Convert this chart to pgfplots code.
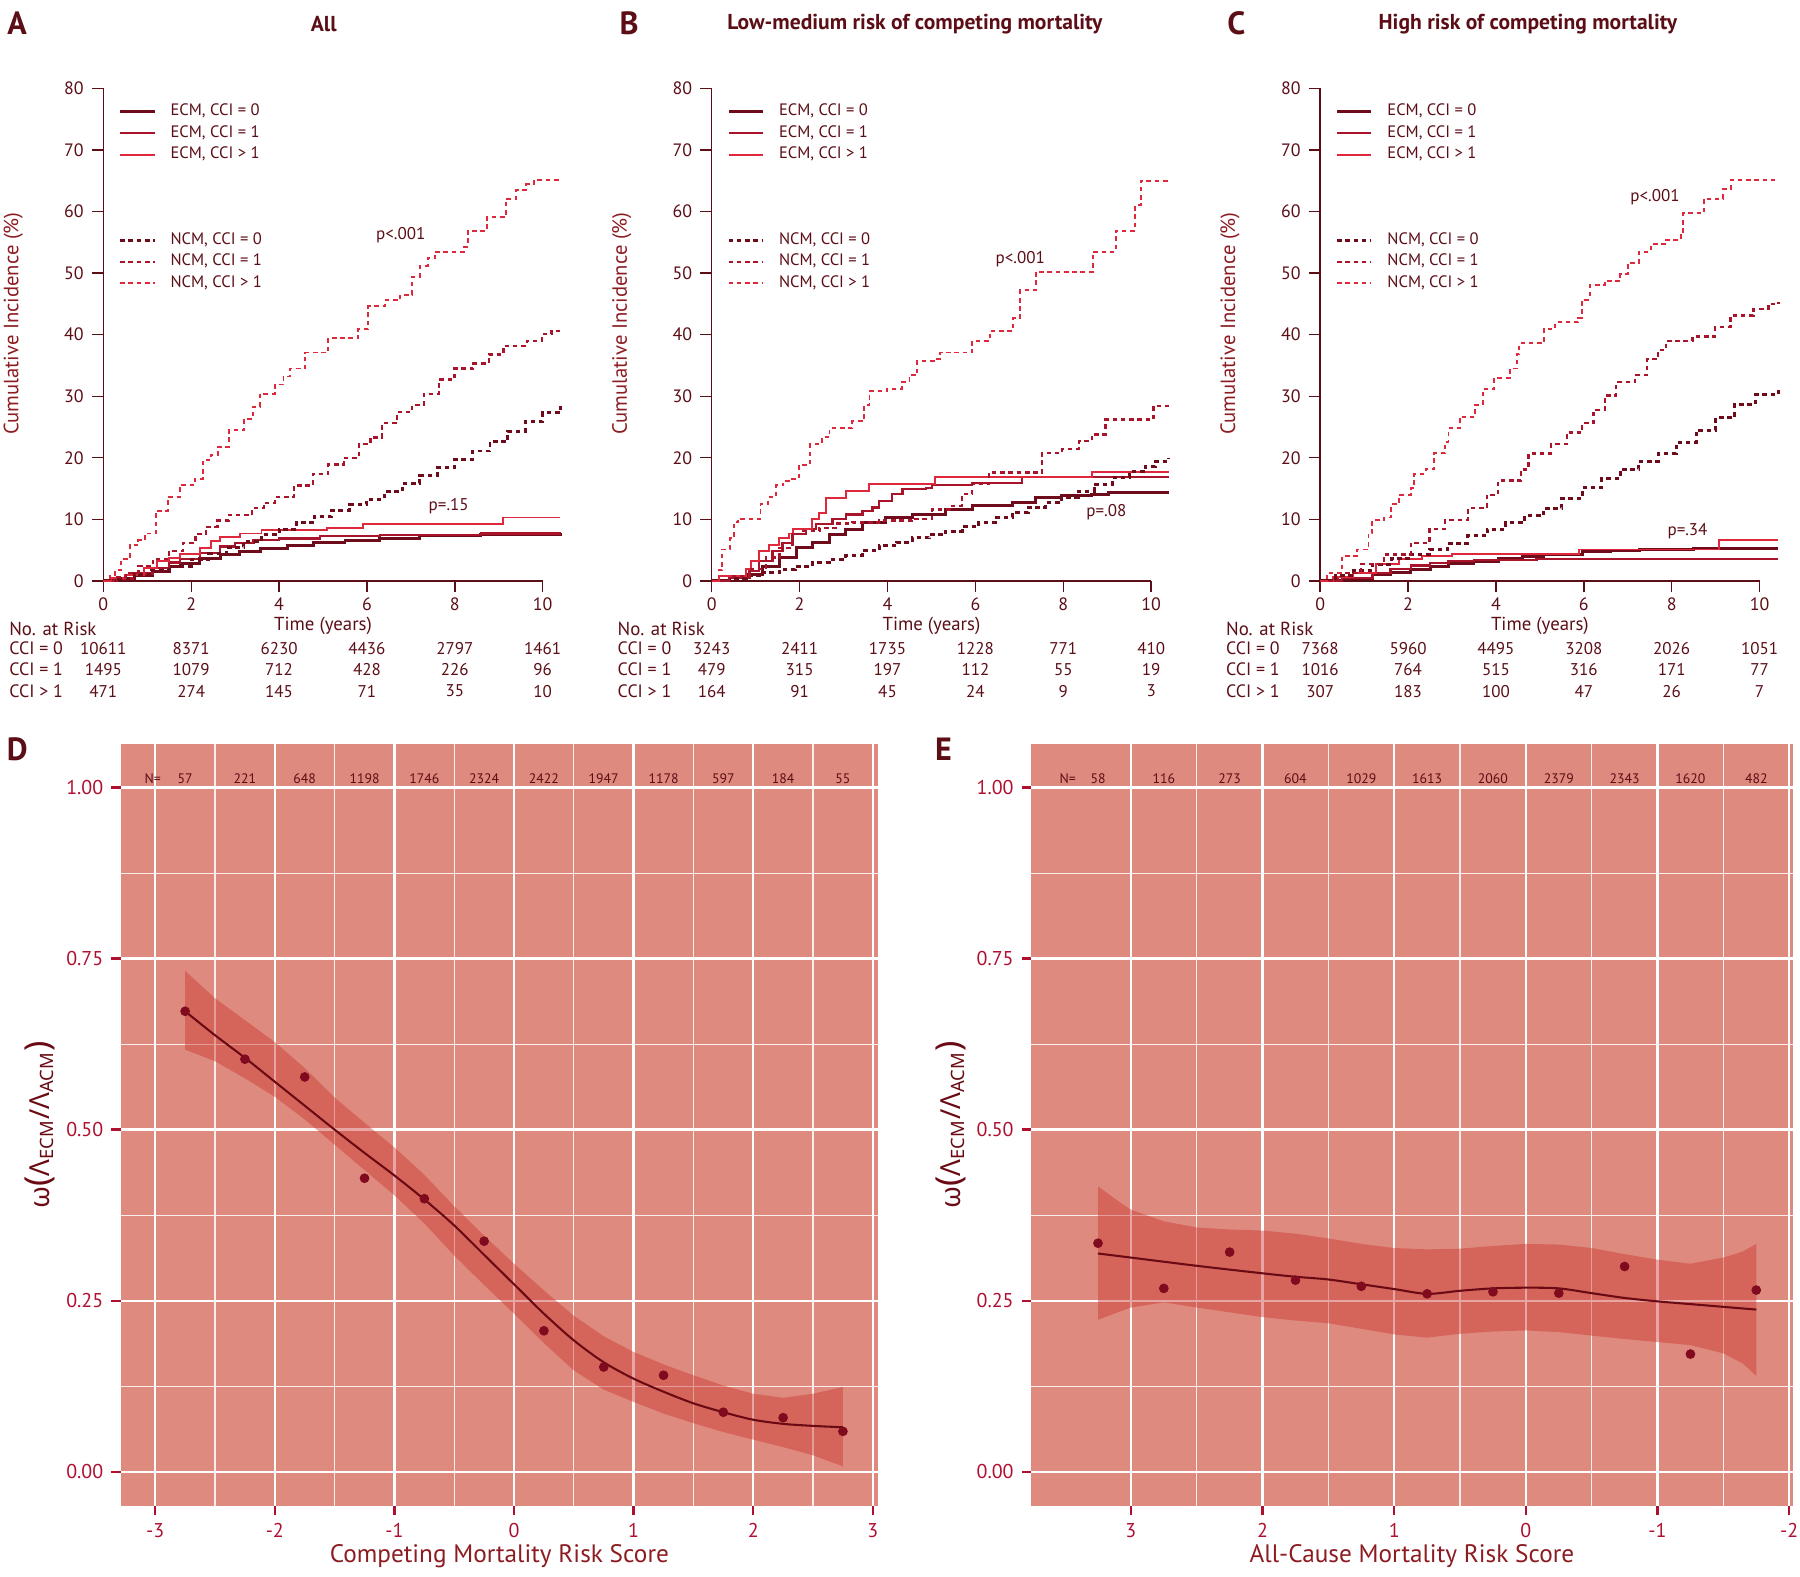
\documentclass[border=0pt]{standalone}
\usepackage{pgfplots}
\pgfplotsset{compat=1.18}
\usepackage{fontspec}
\setmainfont{PT Sans}
\newfontfamily\gk{Noto Sans}

\definecolor{mar}{RGB}{92,14,22}
\definecolor{c0}{RGB}{110,12,28}
\definecolor{c1}{RGB}{170,20,42}
\definecolor{c2}{RGB}{222,40,60}
\definecolor{crim}{RGB}{176,16,48}
\definecolor{bgred}{RGB}{223,138,127}
\definecolor{bandc}{RGB}{200,50,45}
\definecolor{ptc}{RGB}{128,10,30}
\definecolor{lnc}{RGB}{106,10,20}
\definecolor{ylab}{RGB}{140,28,34}

\tikzset{rt/.style={font=\fontsize{7.4}{8}\selectfont, text=mar, inner sep=0pt},
  nt/.style={font=\fontsize{6}{6.5}\selectfont, text=mar, inner sep=0pt}}

\pgfplotsset{
  ecm0/.style={const plot, no marks, c0, line width=1.3pt},
  ecm1/.style={const plot, no marks, c1, line width=1.0pt},
  ecm2/.style={const plot, no marks, c2, line width=0.85pt},
  ncm0/.style={ecm0, dash pattern=on 2pt off 1.6pt},
  ncm1/.style={ecm1, dash pattern=on 2pt off 1.6pt},
  ncm2/.style={ecm2, dash pattern=on 2pt off 1.6pt},
  kmaxis/.style={
    scale only axis, width=200pt, height=214.5pt,
    xmin=0, xmax=10.45, ymin=0, ymax=80,
    axis lines*=left, axis line style={draw=none},
    xtick={0,2,...,10}, ytick={0,10,...,80},
    tick align=outside, major tick length=5pt,
    tick style={mar, line width=0.6pt},
    ticklabel style={font=\fontsize{7.8}{8}\selectfont, text=mar},
    xticklabel style={yshift=1pt},
    /pgf/number format/assume math mode=true,
    clip=false,
    legend cell align=left,
    legend image code/.code={\draw[##1] (0pt,0pt) -- (15pt,0pt);},
    legend style={at={(0.0325,0.972)}, anchor=north west, draw=none, fill=none,
      inner sep=0pt, row sep=1.55pt, font=\fontsize{7.2}{7.5}\selectfont, text=mar,
      nodes={inner sep=0.8pt, text height=4.8pt, text depth=1.4pt},
      /tikz/every odd column/.append style={column sep=5.5pt}},
  },
  bot/.style={
    scale only axis, height=332pt,
    ymin=-0.0503, ymax=1.0638,
    axis background/.style={fill=bgred},
    axis line style={draw=none},
    tick pos=left, tick align=outside,
    major tick length=4pt, minor tick length=0pt,
    tick style={crim, line width=1pt},
    grid=both,
    major grid style={white, line width=1pt},
    minor grid style={white, line width=0.5pt, opacity=0.85},
    ytick={0,0.25,0.5,0.75,1}, yticklabels={0.00,0.25,0.50,0.75,1.00},
    minor ytick={0.125,0.375,0.625,0.875},
    ticklabel style={font=\fontsize{8.7}{9}\selectfont, text=crim},
    /pgf/number format/assume math mode=true,
    clip=false,
  },
}

\newcommand{\rrow}[8]{%
  \node[rt, anchor=west, font=\fontsize{7.8}{8}\selectfont] at (axis cs:-2.15,#1) {#2};
  \node[rt] at (axis cs:0,#1) {#3};
  \node[rt] at (axis cs:2,#1) {#4};
  \node[rt] at (axis cs:4,#1) {#5};
  \node[rt] at (axis cs:6,#1) {#6};
  \node[rt] at (axis cs:8,#1) {#7};
  \node[rt] at (axis cs:10,#1) {#8};}

\newcommand{\kmframe}{%
  \draw[mar, line width=0.6pt] (axis cs:0,80) -- (axis cs:0,0) -- (axis cs:10,0);
  \node[font=\fontsize{9}{10}\selectfont, text=ylab, rotate=90] at (axis cs:-2.05,41.8) {Cumulative Incidence (\%)};
  \node[rt, font=\fontsize{8.2}{9}\selectfont] at (axis cs:5,-7.3) {Time (years)};
  \node[rt, anchor=west, font=\fontsize{8.2}{9}\selectfont] at (axis cs:-2.15,-7.83) {No. at Risk};}

\newcommand{\blanks}{%
  \addlegendimage{empty legend}\addlegendentry{}
  \addlegendimage{empty legend}\addlegendentry{}
  \addlegendimage{empty legend}\addlegendentry{}}

\newcommand{\omegalabel}{ω{\fontsize{15}{15}\selectfont(}Λ\textsubscript{ECM}/Λ\textsubscript{ACM}{\fontsize{15}{15}\selectfont)}}

\begin{document}
\begin{tikzpicture}
\useasboundingbox (0,0) rectangle (784pt,-686.5pt);

% panel letters and titles
\node[font=\bfseries\fontsize{14}{15}\selectfont, text=mar] at (7.5pt,-10pt) {A};
\node[font=\bfseries\fontsize{14}{15}\selectfont, text=mar] at (274pt,-10pt) {B};
\node[font=\bfseries\fontsize{14}{15}\selectfont, text=mar] at (538.5pt,-10pt) {C};
\node[font=\bfseries\fontsize{14}{15}\selectfont, text=mar] at (7.5pt,-326.5pt) {D};
\node[font=\bfseries\fontsize{14}{15}\selectfont, text=mar] at (411pt,-326.5pt) {E};
\node[font=\bfseries\fontsize{9.4}{10}\selectfont, text=mar] at (141pt,-10.5pt) {All};
\node[font=\bfseries\fontsize{9.4}{10}\selectfont, text=mar] at (398.5pt,-10.5pt) {Low-medium risk of competing mortality};
\node[font=\bfseries\fontsize{9.4}{10}\selectfont, text=mar] at (665.5pt,-10.5pt) {High risk of competing mortality};

% ---------------- Panel A ----------------
\begin{axis}[kmaxis, at={(45pt,-253pt)}, anchor=south west]
\kmframe
\addplot[ecm0] coordinates {(0,0) (0.3,0.3) (0.7,0.9) (1.13,1.6) (1.5,2.3) (1.75,2.8) (2.2,3.6) (2.66,4.3) (3.1,4.8) (3.57,5.3) (4.2,5.8) (4.78,6.2) (5.5,6.6) (6.29,6.9) (7.2,7.3) (8.59,7.6) (10.4,7.8)};
\addlegendentry{ECM, CCI = 0}
\addplot[ecm1] coordinates {(0,0) (0.3,0.4) (0.7,1.2) (1.13,2.1) (1.5,3.0) (1.75,3.6) (2.2,4.5) (2.66,5.6) (3.0,6.1) (3.42,6.6) (4.0,6.9) (4.93,7.3) (6.29,7.4) (7.2,7.5) (8.59,7.7) (10.4,7.9)};
\addlegendentry{ECM, CCI = 1}
\addplot[ecm2] coordinates {(0,0) (0.2,0.4) (0.5,1.0) (0.92,2.1) (1.22,3.2) (1.5,3.7) (1.75,4.3) (2.2,5.4) (2.45,6.5) (2.66,7.2) (3.11,7.7) (3.6,8.3) (5.08,8.6) (5.9,9.2) (9.1,10.3) (10.4,10.3)};
\addlegendentry{ECM, CCI > 1}
\blanks
\addplot[ncm0] coordinates {(0,0) (0.3,0.4) (0.7,1.0) (1.1,1.7) (1.5,2.4) (2.0,3.4) (2.4,4.4) (2.8,5.4) (3.2,6.4) (3.6,7.5) (4.0,8.4) (4.4,9.5) (4.8,10.5) (5.2,11.5) (5.6,12.4) (6.0,13.3) (6.4,14.5) (6.8,15.8) (7.2,17.1) (7.6,18.4) (8.0,19.7) (8.4,21.1) (8.8,22.6) (9.2,24.3) (9.6,25.9) (10.0,27.3) (10.4,28.4)};
\addlegendentry{NCM, CCI = 0}
\addplot[ncm1] coordinates {(0,0) (0.25,0.6) (0.52,1.3) (0.8,2.4) (1.13,3.6) (1.5,4.9) (1.82,6.2) (2.1,7.6) (2.34,8.8) (2.6,9.8) (2.86,10.7) (3.39,11.8) (3.65,12.7) (3.9,13.6) (4.34,15.5) (4.77,17.4) (5.12,18.9) (5.47,20.0) (5.82,22.2) (6.08,23.3) (6.34,25.6) (6.68,27.4) (7.03,28.6) (7.29,30.4) (7.64,32.7) (7.99,34.5) (8.42,35.3) (8.77,36.8) (9.11,38.2) (9.64,39.0) (9.98,40.1) (10.2,40.6) (10.4,40.6)};
\addlegendentry{NCM, CCI = 1}
\addplot[ncm2] coordinates {(0,0) (0.15,0.8) (0.26,1.7) (0.4,3.5) (0.6,5.8) (0.8,6.6) (0.95,7.7) (1.2,11.4) (1.47,13.6) (1.74,15.5) (2.08,16.6) (2.26,19.6) (2.45,20.5) (2.6,21.8) (2.86,24.5) (3.2,26.3) (3.4,28.3) (3.56,30.4) (3.9,31.9) (4.1,33.2) (4.25,34.5) (4.6,37.1) (5.12,39.4) (5.8,40.9) (6.03,44.6) (6.4,45.6) (6.76,46.5) (7.03,49.4) (7.2,51.2) (7.38,52.4) (7.55,53.5) (8.2,54.3) (8.3,56.9) (8.73,59.1) (9.16,62.1) (9.4,63.5) (9.63,64.4) (9.8,65.1) (10.4,65.1)};
\addlegendentry{NCM, CCI > 1}
\node[rt] at (axis cs:6.77,56.1) {p<.001};
\node[rt] at (axis cs:7.86,12.1) {p=.15};
\rrow{-11.0}{CCI = 0}{10611}{8371}{6230}{4436}{2797}{1461}
\rrow{-14.36}{CCI = 1}{1495}{1079}{712}{428}{226}{96}
\rrow{-17.9}{CCI > 1}{471}{274}{145}{71}{35}{10}
\end{axis}

% ---------------- Panel B ----------------
\begin{axis}[kmaxis, at={(310pt,-253pt)}, anchor=south west]
\kmframe
\addplot[ecm0] coordinates {(0,0) (0.4,0.5) (0.78,1.1) (1.15,2.3) (1.54,3.8) (1.92,5.4) (2.29,6.2) (2.67,7.6) (3.05,8.4) (3.43,9.5) (3.96,10.3) (4.56,10.8) (5.32,11.6) (5.93,12.3) (6.84,12.7) (7.36,13.5) (7.97,13.8) (8.65,14.1) (9.03,14.3) (10.4,14.3)};
\addlegendentry{ECM, CCI = 0}
\addplot[ecm1] coordinates {(0,0) (0.4,0.5) (0.86,1.6) (1.08,3.2) (1.38,4.9) (1.61,6.2) (1.84,7.6) (2.14,8.4) (2.37,9.2) (2.75,10.0) (3.05,10.8) (3.43,11.4) (3.66,11.9) (3.81,13.0) (4.11,14.1) (4.34,14.9) (4.87,15.1) (5.02,15.6) (5.93,15.9) (7.06,16.9) (10.4,16.9)};
\addlegendentry{ECM, CCI = 1}
\addplot[ecm2] coordinates {(0,0) (0.17,0.8) (0.78,1.9) (0.89,3.2) (1.08,4.9) (1.31,5.9) (1.54,7.0) (1.76,7.7) (1.84,8.4) (2.29,10.0) (2.45,11.1) (2.6,13.5) (3.05,14.6) (3.58,15.7) (5.09,16.9) (8.65,17.7) (10.4,17.7)};
\addlegendentry{ECM, CCI > 1}
\blanks
\addplot[ncm0] coordinates {(0,0) (0.4,0.4) (0.78,0.8) (1.15,1.4) (1.54,1.9) (1.9,2.4) (2.29,3.0) (2.67,3.5) (3.05,4.1) (3.43,4.9) (3.81,5.7) (4.2,6.3) (4.56,7.0) (4.95,7.5) (5.32,8.1) (5.7,8.8) (6.08,9.5) (6.45,10.3) (6.84,11.1) (7.2,11.9) (7.59,12.7) (7.97,13.6) (8.35,14.6) (8.7,15.7) (9.11,16.8) (9.5,17.7) (9.86,18.6) (10.1,19.4) (10.4,20.0)};
\addlegendentry{NCM, CCI = 0}
\addplot[ncm1] coordinates {(0,0) (0.4,0.8) (0.86,1.9) (1.23,3.8) (1.54,5.4) (1.84,7.6) (2.07,8.1) (2.45,8.6) (2.82,9.3) (3.2,9.5) (3.8,9.8) (4.56,10.1) (5.02,11.6) (5.47,12.2) (5.7,14.1) (5.93,15.7) (6.31,17.6) (7.52,20.8) (7.97,21.4) (8.35,22.7) (8.65,23.8) (8.96,26.2) (10.05,28.4) (10.4,28.4)};
\addlegendentry{NCM, CCI = 1}
\addplot[ncm2] coordinates {(0,0) (0.16,1.7) (0.24,5.1) (0.42,6.9) (0.5,9.5) (0.59,10.1) (1.11,12.5) (1.29,13.6) (1.46,15.5) (1.63,16.3) (1.81,16.6) (1.99,18.9) (2.24,22.2) (2.5,23.3) (2.68,24.8) (3.2,25.9) (3.46,28.5) (3.59,30.8) (3.98,31.2) (4.33,32.3) (4.5,33.4) (4.68,35.7) (5.11,36.0) (5.2,37.1) (5.93,39.0) (6.33,40.6) (6.85,42.7) (7.02,47.2) (7.37,50.2) (8.67,53.5) (9.19,56.9) (9.63,61.0) (9.76,65.0) (10.4,65.0)};
\addlegendentry{NCM, CCI > 1}
\node[rt] at (axis cs:7.02,52.2) {p<.001};
\node[rt] at (axis cs:8.98,11.2) {p=.08};
\rrow{-11.0}{CCI = 0}{3243}{2411}{1735}{1228}{771}{410}
\rrow{-14.36}{CCI = 1}{479}{315}{197}{112}{55}{19}
\rrow{-17.9}{CCI > 1}{164}{91}{45}{24}{9}{3}
\end{axis}

% ---------------- Panel C ----------------
\begin{axis}[kmaxis, at={(575pt,-253pt)}, anchor=south west]
\kmframe
\addplot[ecm0] coordinates {(0,0) (0.5,0.4) (1.19,1.0) (1.6,1.4) (2.06,1.9) (2.5,2.3) (2.92,2.8) (3.5,3.2) (4.05,3.6) (4.6,4.0) (5.09,4.3) (5.96,4.7) (6.6,4.9) (7.26,5.1) (8.5,5.2) (10.43,5.2)};
\addlegendentry{ECM, CCI = 0}
\addplot[ecm1] coordinates {(0,0) (0.5,0.5) (1.19,1.3) (1.6,1.9) (2.06,2.5) (2.5,2.9) (2.92,3.2) (3.5,3.4) (4.92,3.6) (10.43,3.6)};
\addlegendentry{ECM, CCI = 1}
\addplot[ecm2] coordinates {(0,0) (0.3,0.6) (0.75,1.3) (1.27,2.8) (1.8,3.6) (2.32,4.0) (3.0,4.3) (5.9,5.1) (9.08,6.6) (10.43,6.6)};
\addlegendentry{ECM, CCI > 1}
\blanks
\addplot[ncm0] coordinates {(0,0) (0.35,0.8) (0.75,1.7) (1.2,2.7) (1.62,3.6) (2.05,4.3) (2.49,5.1) (2.9,6.1) (3.36,7.3) (3.8,8.4) (4.22,9.5) (4.65,10.6) (5.09,11.8) (5.5,13.4) (5.96,15.1) (6.4,16.6) (6.83,18.1) (7.25,19.4) (7.69,20.7) (8.1,22.5) (8.56,24.5) (9.0,26.5) (9.43,28.6) (9.9,30.2) (10.43,31.5)};
\addlegendentry{NCM, CCI = 0}
\addplot[ncm1] coordinates {(0,0) (0.41,1.3) (0.93,2.8) (1.45,4.3) (2.06,6.2) (2.49,8.4) (2.84,9.9) (3.36,11.8) (3.79,14.0) (4.05,16.3) (4.57,18.1) (4.74,20.7) (5.26,22.2) (5.61,24.1) (5.96,25.6) (6.22,27.8) (6.48,30.1) (6.74,32.3) (7.17,33.4) (7.43,36.0) (7.69,37.5) (7.87,39.0) (8.47,39.7) (8.99,41.2) (9.34,43.1) (9.86,44.2) (10.2,45.0) (10.43,45.3)};
\addlegendentry{NCM, CCI = 1}
\addplot[ncm2] coordinates {(0,0) (0.15,1.3) (0.49,4.0) (0.84,5.1) (1.1,7.7) (1.19,9.9) (1.45,10.3) (1.62,12.5) (1.8,14.0) (2.06,15.1) (2.14,17.4) (2.4,18.1) (2.58,20.7) (2.84,22.6) (2.92,24.8) (3.18,26.7) (3.53,28.6) (3.7,31.2) (3.96,33.0) (4.31,34.5) (4.48,36.8) (4.53,38.6) (5.09,40.9) (5.35,42.0) (5.87,42.7) (5.96,45.7) (6.13,48.0) (6.48,48.7) (6.83,49.8) (7.0,51.7) (7.26,53.5) (7.52,54.7) (7.87,55.4) (8.21,56.5) (8.26,59.7) (8.73,62.1) (9.17,63.6) (9.34,65.1) (10.43,65.1)};
\addlegendentry{NCM, CCI > 1}
\node[rt] at (axis cs:7.62,62.3) {p<.001};
\node[rt] at (axis cs:8.36,8.0) {p=.34};
\rrow{-11.0}{CCI = 0}{7368}{5960}{4495}{3208}{2026}{1051}
\rrow{-14.36}{CCI = 1}{1016}{764}{515}{316}{171}{77}
\rrow{-17.9}{CCI > 1}{307}{183}{100}{47}{26}{7}
\end{axis}

% ---------------- Panel D ----------------
\begin{axis}[bot, at={(52.5pt,-656pt)}, anchor=south west, width=330pt,
  xmin=-3.29, xmax=3.045, xtick={-3,-2,-1,0,1,2,3},
  minor xtick={-2.5,-1.5,-0.5,0.5,1.5,2.5}]
\addplot[fill=bandc, fill opacity=0.43, draw=none] coordinates {(-2.75,0.732) (-2.5,0.692) (-2.25,0.660) (-2.0,0.628) (-1.75,0.590) (-1.5,0.547) (-1.25,0.510) (-1.0,0.474) (-0.75,0.434) (-0.5,0.388) (-0.25,0.345) (0,0.304) (0.25,0.265) (0.5,0.228) (0.75,0.198) (1.0,0.175) (1.25,0.157) (1.5,0.141) (1.75,0.126) (2.0,0.114) (2.25,0.108) (2.5,0.114) (2.75,0.124) (2.75,0.008) (2.5,0.024) (2.25,0.036) (2.0,0.047) (1.75,0.058) (1.5,0.071) (1.25,0.085) (1.0,0.102) (0.75,0.120) (0.5,0.148) (0.25,0.188) (0,0.231) (-0.25,0.273) (-0.5,0.316) (-0.75,0.363) (-1.0,0.404) (-1.25,0.441) (-1.5,0.478) (-1.75,0.515) (-2.0,0.548) (-2.25,0.575) (-2.5,0.600) (-2.75,0.617)} -- cycle;
\addplot[lnc, line width=0.9pt, smooth, no marks] coordinates {(-2.75,0.673) (-2.5,0.638) (-2.25,0.605) (-2.0,0.570) (-1.75,0.535) (-1.5,0.500) (-1.25,0.466) (-1.0,0.433) (-0.75,0.398) (-0.5,0.360) (-0.25,0.317) (0,0.274) (0.25,0.231) (0.5,0.192) (0.75,0.160) (1.0,0.136) (1.25,0.117) (1.5,0.100) (1.75,0.087) (2.0,0.076) (2.25,0.070) (2.5,0.067) (2.75,0.065)};
\addplot[only marks, mark=*, mark size=1.9pt, ptc] coordinates {(-2.75,0.673) (-2.25,0.603) (-1.75,0.577) (-1.25,0.429) (-0.75,0.399) (-0.25,0.337) (0.25,0.206) (0.75,0.153) (1.25,0.141) (1.75,0.087) (2.25,0.079) (2.75,0.059)};
\node[nt] at (axis cs:-3.02,1.0135) {N=};
\node[nt] at (axis cs:-2.75,1.0135) {57};
\node[nt] at (axis cs:-2.25,1.0135) {221};
\node[nt] at (axis cs:-1.75,1.0135) {648};
\node[nt] at (axis cs:-1.25,1.0135) {1198};
\node[nt] at (axis cs:-0.75,1.0135) {1746};
\node[nt] at (axis cs:-0.25,1.0135) {2324};
\node[nt] at (axis cs:0.25,1.0135) {2422};
\node[nt] at (axis cs:0.75,1.0135) {1947};
\node[nt] at (axis cs:1.25,1.0135) {1178};
\node[nt] at (axis cs:1.75,1.0135) {597};
\node[nt] at (axis cs:2.25,1.0135) {184};
\node[nt] at (axis cs:2.75,1.0135) {55};
\node[font=\fontsize{11}{12}\selectfont, text=ylab] at (axis description cs:0.5,-0.066) {Competing Mortality Risk Score};
\node[rotate=90, text=lnc, font=\gk\fontsize{12}{14}\selectfont] at (axis description cs:-0.106,0.5) {\omegalabel};
\end{axis}

% ---------------- Panel E ----------------
\begin{axis}[bot, at={(449pt,-656pt)}, anchor=south west, width=332pt,
  x dir=reverse, xmin=-2.03, xmax=3.76, xtick={-2,-1,0,1,2,3},
  minor xtick={-1.5,-0.5,0.5,1.5,2.5}]
\addplot[fill=bandc, fill opacity=0.43, draw=none] coordinates {(3.25,0.417) (3.1,0.396) (3.0,0.383) (2.75,0.366) (2.5,0.357) (2.25,0.354) (2.0,0.3525) (1.75,0.348) (1.5,0.341) (1.25,0.333) (1.0,0.327) (0.75,0.325) (0.5,0.326) (0.25,0.330) (0,0.333) (-0.25,0.332) (-0.5,0.327) (-0.75,0.318) (-1.0,0.310) (-1.25,0.304) (-1.5,0.313) (-1.65,0.322) (-1.75,0.333) (-1.75,0.140) (-1.65,0.158) (-1.5,0.173) (-1.25,0.185) (-1.0,0.1896) (-0.75,0.194) (-0.5,0.199) (-0.25,0.204) (0,0.2065) (0.25,0.205) (0.5,0.2016) (0.75,0.196) (1.0,0.2007) (1.25,0.209) (1.5,0.217) (1.75,0.221) (2.0,0.226) (2.25,0.233) (2.5,0.240) (2.75,0.2476) (3.0,0.240) (3.1,0.233) (3.25,0.222)} -- cycle;
\addplot[lnc, line width=0.9pt, smooth, no marks] coordinates {(3.25,0.319) (3.0,0.313) (2.5,0.301) (2.0,0.290) (1.75,0.285) (1.5,0.281) (1.25,0.274) (1.0,0.267) (0.75,0.260) (0.5,0.2645) (0.25,0.268) (0,0.269) (-0.25,0.268) (-0.5,0.261) (-0.75,0.254) (-1.0,0.249) (-1.25,0.245) (-1.5,0.241) (-1.75,0.237)};
\addplot[only marks, mark=*, mark size=1.9pt, ptc] coordinates {(3.25,0.334) (2.75,0.268) (2.25,0.321) (1.75,0.280) (1.25,0.271) (0.75,0.260) (0.25,0.263) (-0.25,0.261) (-0.75,0.300) (-1.25,0.172) (-1.75,0.2655)};
\node[nt] at (axis cs:3.48,1.0135) {N=};
\node[nt] at (axis cs:3.25,1.0135) {58};
\node[nt] at (axis cs:2.75,1.0135) {116};
\node[nt] at (axis cs:2.25,1.0135) {273};
\node[nt] at (axis cs:1.75,1.0135) {604};
\node[nt] at (axis cs:1.25,1.0135) {1029};
\node[nt] at (axis cs:0.75,1.0135) {1613};
\node[nt] at (axis cs:0.25,1.0135) {2060};
\node[nt] at (axis cs:-0.25,1.0135) {2379};
\node[nt] at (axis cs:-0.75,1.0135) {2343};
\node[nt] at (axis cs:-1.25,1.0135) {1620};
\node[nt] at (axis cs:-1.75,1.0135) {482};
\node[font=\fontsize{11}{12}\selectfont, text=ylab] at (axis description cs:0.5,-0.066) {All-Cause Mortality Risk Score};
\node[rotate=90, text=lnc, font=\gk\fontsize{12}{14}\selectfont] at (axis description cs:-0.105,0.5) {\omegalabel};
\end{axis}
\end{tikzpicture}
\end{document}
